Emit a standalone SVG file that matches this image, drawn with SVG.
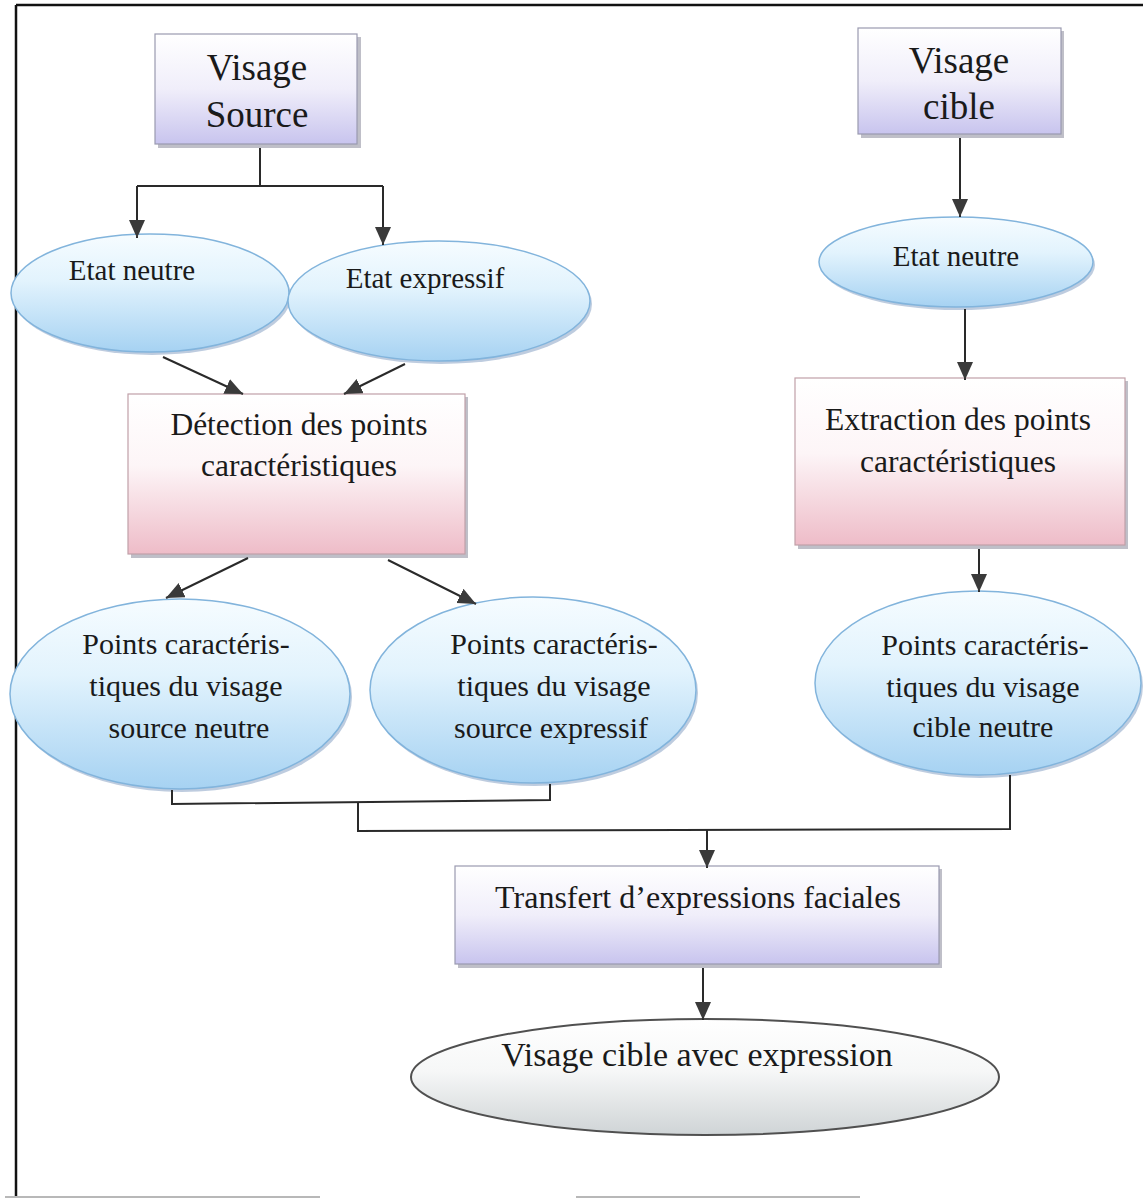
<svg xmlns="http://www.w3.org/2000/svg" width="1143" height="1204" viewBox="0 0 1143 1204">
<style>
  text { font-family: "Liberation Serif", "Times New Roman", serif; fill: #1a1a1a; text-anchor: middle; }
  .conn { stroke: #2a2a2a; stroke-width: 2; fill: none; }
  .arr { marker-end: url(#ah); }
  .rectL { fill: url(#gLav); stroke: #9a9ab0; stroke-width: 1.2; }
  .rectP { fill: url(#gPink); stroke: #c0a0a8; stroke-width: 1.2; }
  .ellB { fill: url(#gBlue); stroke: #82b4dc; stroke-width: 1.5; }
  .ellG { fill: url(#gGray); stroke: #505050; stroke-width: 2; }
  .shadow { fill: #8a8a9a; opacity: 0.55; }
  .eshadow { fill: #6f8fb8; opacity: 0.45; }
</style>
<defs>
  <linearGradient id="gLav" x1="0" y1="0" x2="0" y2="1">
    <stop offset="0" stop-color="#ffffff"/>
    <stop offset="0.5" stop-color="#f0eefa"/>
    <stop offset="1" stop-color="#c8c4ee"/>
  </linearGradient>
  <linearGradient id="gPink" x1="0" y1="0" x2="0" y2="1">
    <stop offset="0" stop-color="#ffffff"/>
    <stop offset="0.45" stop-color="#fdf5f7"/>
    <stop offset="1" stop-color="#eebcc8"/>
  </linearGradient>
  <linearGradient id="gBlue" x1="0" y1="0" x2="0" y2="1">
    <stop offset="0" stop-color="#f6fcff"/>
    <stop offset="0.4" stop-color="#e2f3fd"/>
    <stop offset="1" stop-color="#a6d2f2"/>
  </linearGradient>
  <linearGradient id="gGray" x1="0" y1="0" x2="0" y2="1">
    <stop offset="0" stop-color="#ffffff"/>
    <stop offset="0.45" stop-color="#f6f7f7"/>
    <stop offset="1" stop-color="#cfd4d6"/>
  </linearGradient>
  <marker id="ah" markerUnits="userSpaceOnUse" markerWidth="20" markerHeight="18" refX="18" refY="8" orient="auto">
    <path d="M0,0 L18,8 L0,16 z" fill="#3a3a3a"/>
  </marker>
</defs>

<g id="frame">
  <line x1="16" y1="5" x2="1143" y2="5" stroke="#111" stroke-width="2.5"/>
  <line x1="16" y1="5" x2="16" y2="1197" stroke="#111" stroke-width="2.5"/>
  <line x1="5" y1="1197" x2="320" y2="1197" stroke="#b8b8b8" stroke-width="2"/>
  <line x1="576" y1="1197" x2="860" y2="1197" stroke="#b8b8b8" stroke-width="2"/>
</g>

<g id="visage-source">
  <rect class="shadow" x="158" y="37" width="203" height="111"/>
  <rect class="rectL" x="155" y="34" width="202" height="110"/>
  <text x="257" y="80" font-size="37">Visage</text>
  <text x="257" y="127" font-size="37">Source</text>
</g>

<g id="visage-cible">
  <rect class="shadow" x="861" y="31" width="203" height="107"/>
  <rect class="rectL" x="858" y="28" width="203" height="106"/>
  <text x="959" y="73" font-size="37">Visage</text>
  <text x="959" y="119" font-size="37">cible</text>
</g>

<g id="etat-neutre-src">
  <ellipse class="eshadow" cx="152" cy="296" rx="139" ry="59"/>
  <ellipse class="ellB" cx="150" cy="293" rx="139" ry="59"/>
  <text x="132" y="280" font-size="29">Etat neutre</text>
</g>

<g id="etat-expressif">
  <ellipse class="eshadow" cx="441" cy="304" rx="151" ry="60"/>
  <ellipse class="ellB" cx="439" cy="301" rx="151" ry="60"/>
  <text x="425" y="288" font-size="29">Etat expressif</text>
</g>

<g id="etat-neutre-cible">
  <ellipse class="eshadow" cx="958" cy="265" rx="137" ry="45"/>
  <ellipse class="ellB" cx="956" cy="262" rx="137" ry="45"/>
  <text x="956" y="266" font-size="29">Etat neutre</text>
</g>

<g id="detection">
  <rect class="shadow" x="131" y="397" width="337" height="161"/>
  <rect class="rectP" x="128" y="394" width="337" height="160"/>
  <text x="299" y="435" font-size="31.5">Détection des points</text>
  <text x="299" y="476" font-size="31.5">caractéristiques</text>
</g>

<g id="extraction">
  <rect class="shadow" x="798" y="381" width="330" height="168"/>
  <rect class="rectP" x="795" y="378" width="330" height="167"/>
  <text x="958" y="430" font-size="31.5">Extraction des points</text>
  <text x="958" y="472" font-size="31.5">caractéristiques</text>
</g>

<g id="pts-source-neutre">
  <ellipse class="eshadow" cx="182" cy="697" rx="170" ry="95"/>
  <ellipse class="ellB" cx="180" cy="694" rx="170" ry="95"/>
  <text x="186" y="654" font-size="30">Points caractéris-</text>
  <text x="186" y="696" font-size="30">tiques du visage</text>
  <text x="189" y="738" font-size="30">source neutre</text>
</g>

<g id="pts-source-expressif">
  <ellipse class="eshadow" cx="535" cy="693" rx="163" ry="93"/>
  <ellipse class="ellB" cx="533" cy="690" rx="163" ry="93"/>
  <text x="554" y="654" font-size="30">Points caractéris-</text>
  <text x="554" y="696" font-size="30">tiques du visage</text>
  <text x="551" y="738" font-size="30">source expressif</text>
</g>

<g id="pts-cible-neutre">
  <ellipse class="eshadow" cx="980" cy="686" rx="163" ry="92"/>
  <ellipse class="ellB" cx="978" cy="683" rx="163" ry="92"/>
  <text x="985" y="655" font-size="30">Points caractéris-</text>
  <text x="983" y="697" font-size="30">tiques du visage</text>
  <text x="983" y="737" font-size="30">cible neutre</text>
</g>

<g id="transfert">
  <rect class="shadow" x="458" y="869" width="484" height="99"/>
  <rect class="rectL" x="455" y="866" width="484" height="98"/>
  <text x="698" y="908" font-size="32">Transfert d’expressions faciales</text>
</g>

<g id="visage-cible-expression">
  <ellipse class="ellG" cx="705" cy="1077" rx="294" ry="58"/>
  <text x="697" y="1066" font-size="34">Visage cible avec expression</text>
</g>

<g id="connectors">
  <polyline class="conn" points="260,148 260,186"/>
  <polyline class="conn" points="137,186 383,186"/>
  <line class="conn arr" x1="137" y1="186" x2="137" y2="238"/>
  <line class="conn arr" x1="383" y1="186" x2="383" y2="245"/>
  <line class="conn arr" x1="163" y1="357" x2="243" y2="394"/>
  <line class="conn arr" x1="405" y1="364" x2="344" y2="394"/>
  <line class="conn arr" x1="248" y1="558" x2="166" y2="598"/>
  <line class="conn arr" x1="388" y1="560" x2="476" y2="604"/>
  <line class="conn arr" x1="960" y1="138" x2="960" y2="217"/>
  <line class="conn arr" x1="965" y1="309" x2="965" y2="380"/>
  <line class="conn arr" x1="979" y1="549" x2="979" y2="592"/>
  <polyline class="conn" points="172,790 172,804 550,800 550,784"/>
  <polyline class="conn" points="358,802 358,831 1010,829 1010,775"/>
  <line class="conn arr" x1="707" y1="830" x2="707" y2="868"/>
  <line class="conn arr" x1="703" y1="968" x2="703" y2="1020"/>
</g>
</svg>
